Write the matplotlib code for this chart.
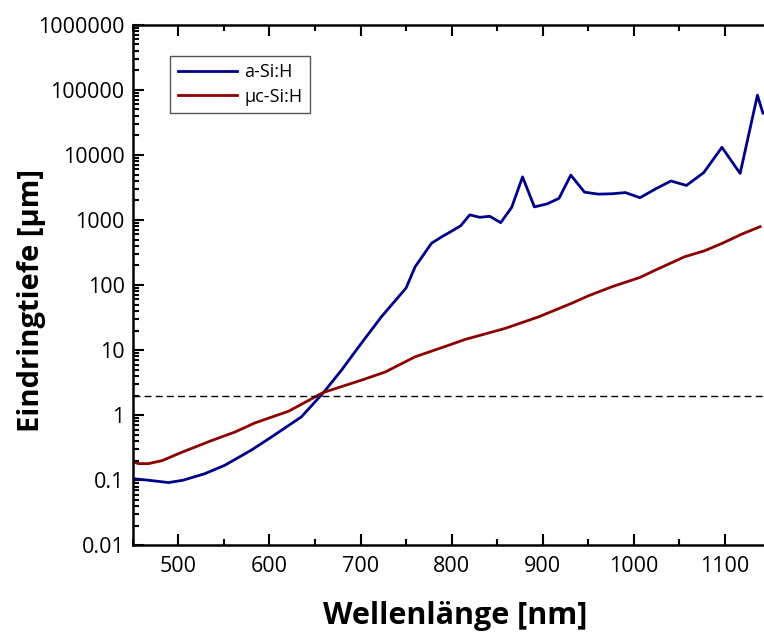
import matplotlib.pyplot as plt
from matplotlib.ticker import FixedLocator, LogLocator, MultipleLocator, NullFormatter

plt.rcParams['font.family'] = ['Open Sans', 'DejaVu Sans']

# a-Si:H penetration depth
asi_x = [449, 467, 489, 505, 529, 551, 580, 602, 635, 659, 679, 701, 723,
         750, 760, 778, 790, 799, 810, 820, 831, 842, 854, 866, 878, 891,
         905, 918, 931, 946, 961, 976, 991, 1007, 1024, 1041, 1058, 1077,
         1097, 1117, 1136, 1142]
asi_y = [0.106, 0.1, 0.092, 0.1, 0.126, 0.17, 0.29, 0.46, 0.94, 2.2, 4.9,
         12.8, 32.6, 90, 191, 440, 560, 660, 815, 1200, 1100, 1140, 910,
         1560, 4600, 1590, 1770, 2150, 4900, 2680, 2500, 2530, 2640, 2200,
         3000, 3980, 3400, 5350, 13100, 5200, 83000, 44000]

# uc-Si:H penetration depth
ucsi_x = [449, 456, 467, 482, 504, 537, 562, 584, 621, 659, 701, 727, 760,
          797, 815, 859, 896, 932, 950, 976, 1007, 1024, 1056, 1078, 1097,
          1119, 1139]
ucsi_y = [0.196, 0.18, 0.18, 0.2, 0.27, 0.41, 0.55, 0.76, 1.15, 2.23, 3.45,
          4.6, 7.9, 11.9, 14.6, 21.6, 32.6, 52.5, 68, 94, 131, 170, 272,
          337, 436, 608, 790]

limit_depth = 2.0
y_ticks = [0.01, 0.1, 1, 10, 100, 1000, 10000, 100000, 1000000]
y_labels = ['0.01', '0.1', '1', '10', '100', '1000', '10000', '100000', '1000000']


def main():
    fig = plt.figure(figsize=(7.64, 6.37), dpi=100)
    ax = fig.add_axes([0.174, 0.144, 0.846, 0.817])

    ax.plot(asi_x, asi_y, color='#000088', lw=2.0, label='a-Si:H')
    ax.plot(ucsi_x, ucsi_y, color='#8b0000', lw=2.0, label='µc-Si:H')
    ax.axhline(limit_depth, color='black', lw=1.0, ls=(0, (5, 3)))

    ax.set_yscale('log')
    ax.set_xlim(450, 1160)
    ax.set_ylim(0.01, 1000000)

    ax.yaxis.set_major_locator(FixedLocator(y_ticks))
    ax.set_yticklabels(y_labels)
    ax.yaxis.set_minor_locator(LogLocator(base=10, subs=range(2, 10), numticks=20))
    ax.yaxis.set_minor_formatter(NullFormatter())
    ax.xaxis.set_major_locator(MultipleLocator(100))
    ax.xaxis.set_minor_locator(MultipleLocator(50))

    ax.tick_params(which='both', direction='in', top=True, right=False,
                   labelsize=15.5, width=1.5)
    ax.tick_params(which='major', length=8)
    ax.tick_params(which='minor', length=4)
    ax.tick_params(axis='x', pad=8)
    ax.tick_params(axis='y', pad=6)
    for s in ax.spines.values():
        s.set_linewidth(1.8)
    ax.spines['right'].set_visible(False)

    ax.set_xlabel('Wellenlänge [nm]', fontsize=22, fontweight='bold')
    ax.set_ylabel('Eindringtiefe [µm]', fontsize=21, fontweight='bold')
    ax.xaxis.set_label_coords(0.498, -0.108)
    ax.yaxis.set_label_coords(-0.135, 0.47)

    leg = ax.legend(loc='upper left', bbox_to_anchor=(0.058, 0.94),
                    fontsize=13, handlelength=3.3, handletextpad=0.4,
                    fancybox=False, borderaxespad=0, framealpha=1,
                    borderpad=0.4, labelspacing=0.35)
    leg.get_frame().set_edgecolor('#555555')
    leg.get_frame().set_linewidth(1.0)

    fig.savefig('out.png', dpi=100)


if __name__ == "__main__":
    main()
